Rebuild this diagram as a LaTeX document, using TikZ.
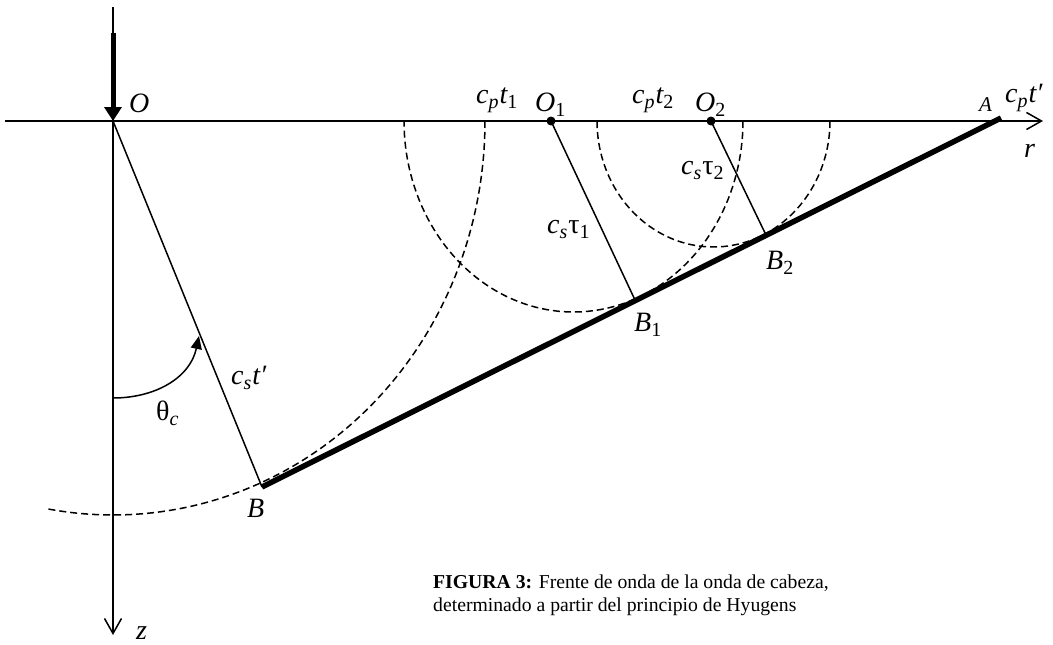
\documentclass[tikz,border=0pt]{standalone}
\usepackage{fontspec}
\setmainfont{Liberation Serif}
\usetikzlibrary{arrows.meta}
\newcommand\sbs[1]{\raisebox{-5pt}{\fontsize{20}{20}\selectfont #1}}
\newcommand\upr[1]{{\upshape #1}}
\begin{document}
\begin{tikzpicture}[x=1pt,y=-1pt,
  every node/.style={inner sep=0pt, anchor=base west},
  lab/.style={font=\fontsize{28}{32}\selectfont\itshape},
  smalllab/.style={font=\fontsize{21}{24}\selectfont\itshape},
  captext/.style={font=\fontsize{19.7}{23}\selectfont},
  thin/.style={line width=1.5pt},
  wave/.style={line width=1.5pt, dash pattern=on 7pt off 4pt},
  front/.style={line width=5.5pt},
  axis/.style={line width=1.5pt, -{Straight Barb[length=15pt,width=17pt,line width=1.5pt]}},
  dot/.style={fill=black}]
\useasboundingbox (0,0) rectangle (1053,645);
% points
\coordinate (O) at (113,121);
\coordinate (B) at (262,487);
\coordinate (A) at (1001,118);
\coordinate (O1) at (551,121);
\coordinate (O2) at (711,121);
\coordinate (B1) at (635,300);
\coordinate (B2) at (766,235);
\coordinate (xl) at (5,121);
\coordinate (xr) at (1043,121);
\coordinate (zt) at (113,7);
\coordinate (zb) at (113,635);
\coordinate (src) at (113,33);
\coordinate (a1) at (113,398);
\coordinate (a2) at (199,336);
% wavefronts
\draw[wave] plot[domain=0:100, samples=120] ({113+(372+22*sin(\x)^2)*cos(\x)},{121+(372+22*sin(\x)^2)*sin(\x)});
\draw[wave] plot[domain=0:180, samples=90] ({573.5+169.5*cos(\x)},{121+191*sin(\x)});
\draw[wave] plot[domain=0:180, samples=90] ({713.5+116.5*cos(\x)},{121+126*sin(\x)});
% axes
\draw[axis] (xl) -- (xr);
\draw[axis] (zt) -- (zb);
\draw[line width=5pt, -{Triangle[length=14pt,width=17pt]}] (src) -- (O);
% rays
\draw[thin] (O) -- (B);
\draw[thin] (O1) -- (B1);
\draw[thin] (O2) -- (B2);
\draw[front] (B) -- (A);
\fill[dot] (O1) circle (4.5);
\fill[dot] (O2) circle (4.5);
% angle
\draw[thin, -{Triangle[length=13pt,width=11pt]}] (a1) .. controls (155,398) and (190,378) .. (a2);
% labels
\node[lab] (lO) at (129,112) {O};
\node[lab] (lcp1) at (476,103) {c\sbs{p}\kern1pt t\sbs{\upr{1}}};
\node[lab] (lO1) at (535,111) {O\sbs{\upr{1}}};
\node[lab] (lcp2) at (632,103) {c\sbs{p}\kern1pt t\sbs{\upr{2}}};
\node[lab] (lO2) at (695,111) {O\sbs{\upr{2}}};
\node[smalllab] (lA) at (979,111) {A};
\node[lab] (lcpt) at (1005,102) {c\sbs{p}\kern1pt t\char"2032};
\node[lab] (lr) at (1024,157) {r};
\node[lab] (lcs2) at (681,174) {c\sbs{s}\kern1pt\upr{τ}\sbs{\upr{2}}};
\node[lab] (lcs1) at (547,233) {c\sbs{s}\kern1pt\upr{τ}\sbs{\upr{1}}};
\node[lab] (lB2) at (766,269) {B\sbs{\upr{2}}};
\node[lab] (lB1) at (634,331) {B\sbs{\upr{1}}};
\node[lab] (lcst) at (231,384) {c\sbs{s}\kern1pt t\char"2032};
\node[lab] (lth) at (156,420) {\upr{θ}\sbs{c}};
\node[lab] (lB) at (247,517) {B};
\node[lab] (lz) at (136,639) {z};
\node[captext] (cap1) at (433,588) {\textbf{FIGURA 3:} Frente de onda de la onda de cabeza,};
\node[captext] (cap2) at (433,611) {determinado a partir del principio de Hyugens};
\end{tikzpicture}
\end{document}
